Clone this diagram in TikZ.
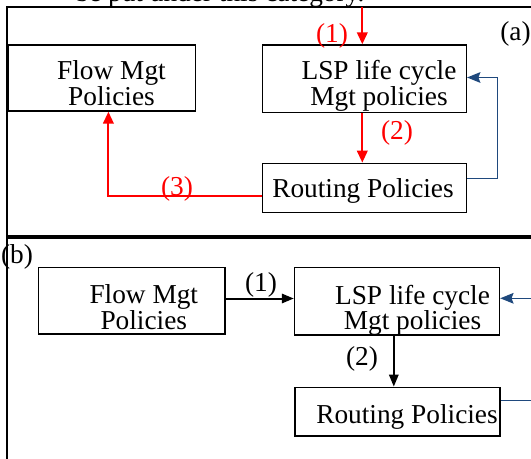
\documentclass[tikz,border=0pt]{standalone}
\usepackage{fontspec}
\setmainfont{Liberation Serif}
\usepackage{tikz}
\usetikzlibrary{arrows.meta}
\tikzset{every picture/.style={line width=0.75pt}}
\definecolor{fbblue}{RGB}{31,73,125}
\tikzset{
  box/.style={draw,line width=1.1pt,inner sep=0pt},
  txt/.style={inner sep=0pt,align=center,font=\fontsize{20.5}{19.3}\selectfont},
  frame/.style={line width=2pt},
  redarr/.style={red,line width=1.5pt,-{Triangle[length=9pt,width=8pt]}},
  blkarr/.style={line width=1.5pt,-{Triangle[length=9pt,width=7pt]}},
  bluearr/.style={fbblue,line width=1pt,-{Stealth[length=10pt,width=8pt,inset=1.5pt]}},
  blueline/.style={fbblue,line width=1pt}
}

\begin{document}
\begin{tikzpicture}[x=0.75pt,y=0.75pt,yscale=-1,xscale=1]
\useasboundingbox (0,0) rectangle (531,459);
\clip (0,0) rectangle (531,459);
\node[txt,anchor=base west] (caption) at (75,1.5) {be put under this category.};
\draw[frame] (540,7) -- (7,7) -- (7,470);
\draw[frame,line width=3pt] (7,237) -- (540,237);

% (a)
\node[box,minimum width=140.2pt,minimum height=49.5pt] (flowA) at (102,78) {};
\node[box,minimum width=152.9pt,minimum height=50.7pt] (lspA) at (364.4,78.8) {};
\node[box,minimum width=152.9pt,minimum height=36.75pt] (routA) at (364.4,187.8) {};
\node[txt,anchor=north] (flowAtxt) at (111.5,60.2) {Flow Mgt\\Policies};
\node[txt,anchor=north] (lspAtxt) at (379,60.2) {LSP life cycle\\Mgt policies};
\node[txt,anchor=north] (routAtxt) at (363,177.6) {Routing Policies};
\node[txt] (partA) at (515.5,33.5) {(a)};
\coordinate (inA) at (362.3,7);
\coordinate (bendA) at (108.4,196);
\coordinate (fbA) at (497.8,178.5);
\coordinate (fbAtop) at (497.8,77.5);
\draw[redarr] (inA) -- (inA |- lspA.north);
\draw[redarr] (lspA.south -| inA) -- (routA.north -| inA);
\draw[redarr] (routA.west |- bendA) -- (bendA) -- (flowA.south -| bendA);
\draw[bluearr] (routA.east |- fbA) -- (fbA) -- (fbAtop) -- (lspA.east |- fbAtop);
\node[txt,red] (oneA) at (332,36) {(1)};
\node[txt,red] (twoA) at (397,133) {(2)};
\node[txt,red] (threeA) at (177,189) {(3)};

% (b)
\node[box,minimum width=140pt,minimum height=50pt] (flowB) at (131.7,300.7) {};
\node[box,minimum width=153.7pt,minimum height=50.8pt] (lspB) at (397,301.2) {};
\node[box,minimum width=153.7pt,minimum height=36.5pt] (routB) at (397.3,411.7) {};
\node[txt,anchor=north] (flowBtxt) at (143.8,284.4) {Flow Mgt\\Policies};
\node[txt,anchor=north] (lspBtxt) at (412.5,284.4) {LSP life cycle\\Mgt policies};
\node[txt,anchor=north] (routBtxt) at (407,404.5) {Routing Policies};
\node[txt] (partB) at (17,257) {(b)};
\coordinate (arrB) at (260,298.5);
\coordinate (downB) at (393.8,360);
\coordinate (fbBin) at (540,298.3);
\coordinate (fbBout) at (540,400.7);
\draw[blkarr] (flowB.east |- arrB) -- (lspB.west |- arrB);
\draw[blkarr] (lspB.south -| downB) -- (routB.north -| downB);
\draw[bluearr] (fbBin) -- (lspB.east |- fbBin);
\draw[blueline] (routB.east |- fbBout) -- (fbBout);
\node[txt] (oneB) at (261,285) {(1)};
\node[txt] (twoB) at (362,358.5) {(2)};
\end{tikzpicture}
\end{document}
